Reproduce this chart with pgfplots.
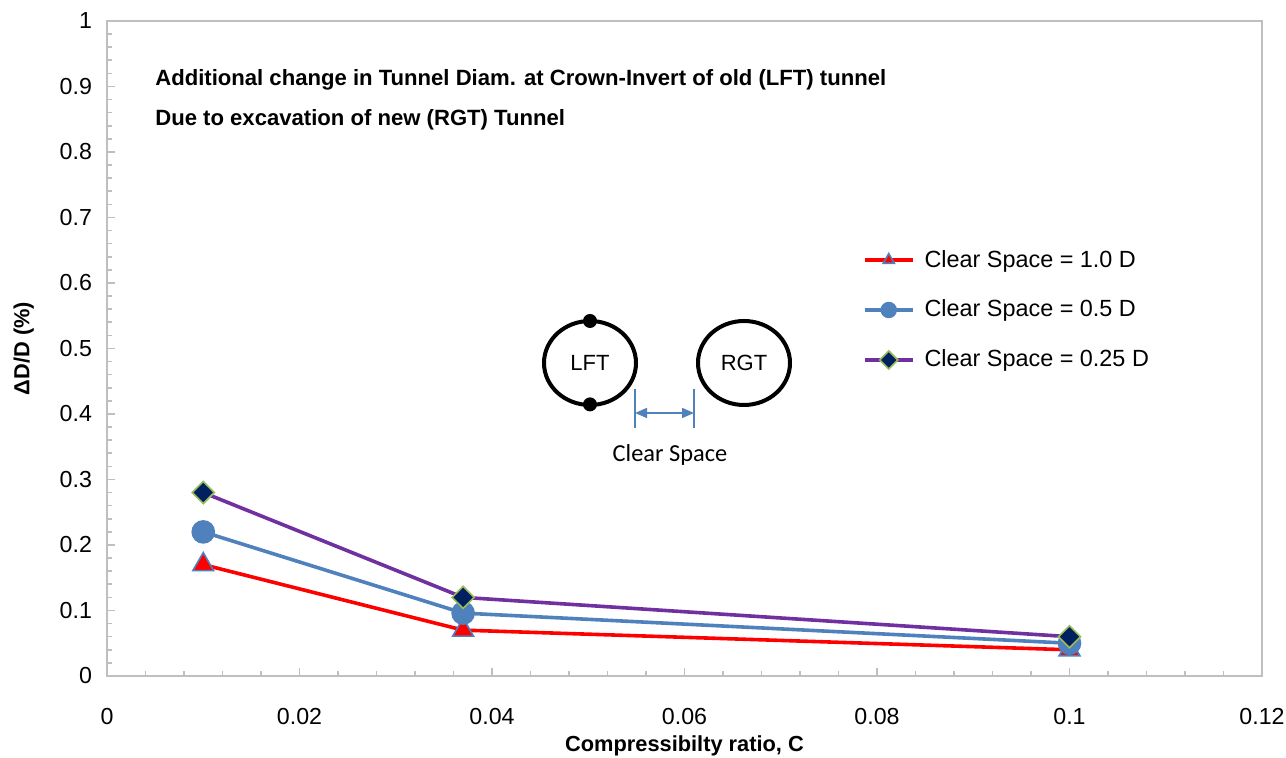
\documentclass[border=0pt]{standalone}
\usepackage{pgfplots}
\pgfplotsset{compat=1.18}
\usepackage{fontspec}
\setmainfont{Liberation Sans}
\newfontfamily\calibri{Carlito}
\usetikzlibrary{arrows.meta}
\definecolor{axgray}{HTML}{BFBFBF}
\definecolor{sblue}{HTML}{4F81BD}
\definecolor{purp}{HTML}{7030A0}
\definecolor{navy}{HTML}{002060}
\definecolor{olivegreen}{HTML}{9BBB59}
\begin{document}
\begin{tikzpicture}
\path[use as bounding box] (-53.5pt,-41pt) rectangle (589.5pt,338pt);
\begin{axis}[
  at={(0,0)}, anchor=south west,
  scale only axis, width=577.5pt, height=327.5pt,
  xmin=0, xmax=0.12, ymin=0, ymax=1,
  xtick={0,0.02,...,0.12}, ytick={0,0.1,...,1},
  xticklabels={0,0.02,0.04,0.06,0.08,0.1,0.12},
  yticklabels={0,0.1,0.2,0.3,0.4,0.5,0.6,0.7,0.8,0.9,1},
  minor x tick num=4, minor y tick num=4,
  xtick pos=bottom, ytick pos=left, tick align=inside,
  major tick length=4pt, minor tick length=2.5pt,
  axis line style={axgray, line width=1pt},
  tick style={axgray, line width=0.8pt},
  ticklabel style={font=\fontsize{11.6}{13}\selectfont, text=black},
  xticklabel style={yshift=-12.5pt},
  yticklabel style={xshift=-4pt},
  /pgf/number format/assume math mode=true,
  xlabel={\bfseries Compressibilty ratio, C},
  ylabel={\bfseries ΔD/D (\%)},
  label style={font=\fontsize{10.9}{12}\selectfont},
  xlabel style={yshift=1.5pt},
  ylabel style={yshift=6pt},
  legend style={draw=none, fill=none, at={(axis cs:0.0785,0.657)}, anchor=north west,
    font=\fontsize{11.7}{13}\selectfont, row sep=11pt, inner sep=0pt,
    /tikz/every even column/.append style={column sep=0pt}},
  legend cell align=left,
  legend image code/.code={\draw[#1] (0pt,0pt) -- (24pt,0pt);
     \draw[#1, mark size=3.2pt, mark repeat=2, mark phase=2] plot coordinates {(0pt,0pt) (12pt,0pt) (24pt,0pt)};},
  clip=false,
]
\addplot[red, line width=1.8pt, mark=triangle*, mark size=6pt,
  mark options={fill=red, draw=sblue, line width=0.8pt}]
  coordinates {(0.01,0.17) (0.037,0.07) (0.1,0.04)};
\addlegendentry{\hspace{3pt}Clear Space = 1.0 D}
\addplot[sblue, line width=1.8pt, mark=*, mark size=5pt,
  mark options={fill=sblue, draw=sblue}]
  coordinates {(0.01,0.22) (0.037,0.096) (0.1,0.05)};
\addlegendentry{\hspace{3pt}Clear Space = 0.5 D}
\addplot[purp, line width=1.8pt, mark=square*, mark size=3.9pt,
  mark options={fill=navy, draw=olivegreen, line width=0.8pt, rotate=45}]
  coordinates {(0.01,0.28) (0.037,0.12) (0.1,0.06)};
\addlegendentry{\hspace{3pt}Clear Space = 0.25 D}
\node[anchor=west, inner sep=0pt, font=\fontsize{11.05}{12}\selectfont\bfseries] at (axis cs:0.00498,0.91)
  {Additional change in Tunnel Diam. at Crown-Invert of old (LFT) tunnel};
\node[anchor=west, inner sep=0pt, font=\fontsize{11.05}{12}\selectfont\bfseries] at (axis cs:0.00498,0.849)
  {Due to excavation of new (RGT) Tunnel};
\end{axis}
% tunnel diagram (pt coordinates relative to axis origin)
\draw[line width=2pt] (241.5pt,156.5pt) ellipse [x radius=23pt, y radius=21pt];
\fill (241.5pt,177.5pt) circle (3.5pt);
\fill (241.5pt,135.8pt) circle (3.5pt);
\node[font=\fontsize{11}{13}\selectfont] at (241.5pt,156.5pt) {LFT};
\draw[line width=2pt] (318.5pt,156.5pt) ellipse [x radius=23pt, y radius=21pt];
\node[font=\fontsize{11}{13}\selectfont] at (318.5pt,156.5pt) {RGT};
\draw[sblue, line width=0.8pt] (264pt,143.5pt) -- (264pt,124pt);
\draw[sblue, line width=0.8pt] (293.5pt,143.5pt) -- (293.5pt,124pt);
\draw[sblue, line width=0.8pt, {Triangle[length=6pt,width=5pt]}-{Triangle[length=6pt,width=5pt]}] (264pt,131.5pt) -- (293.5pt,131.5pt);
\node[font=\calibri\fontsize{12.2}{14}\selectfont] at (281.5pt,110.5pt) {Clear Space};
\end{tikzpicture}
\end{document}
